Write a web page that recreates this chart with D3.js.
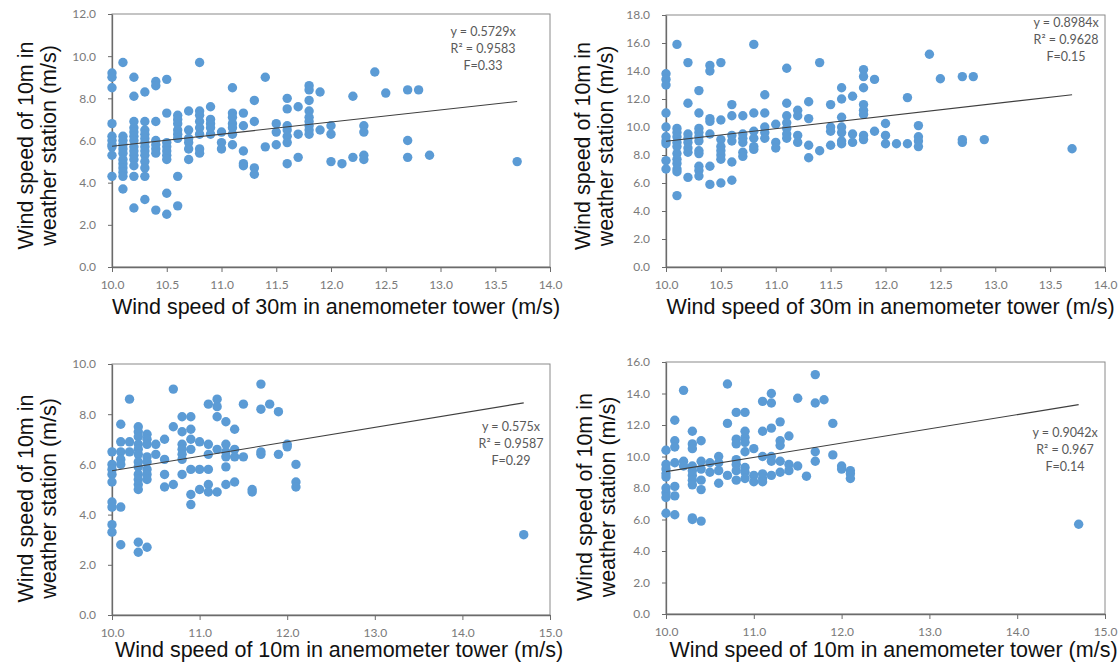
<!DOCTYPE html>
<html>
<head>
<meta charset="utf-8">
<script src="https://cdn.jsdelivr.net/npm/d3@7"></script>
<style>
  body { margin: 0; background: #fff; }
  svg { display: block; }
</style>
</head>
<body>
<div id="chart"></div>
<script>
// tick labels
const xTicksTop = [10.0, 10.5, 11.0, 11.5, 12.0, 12.5, 13.0, 13.5, 14.0];
const xTicksBottom = [10.0, 11.0, 12.0, 13.0, 14.0, 15.0];
const yTicks1 = [0, 2, 4, 6, 8, 10, 12];
const yTicks2 = [0, 2, 4, 6, 8, 10, 12, 14, 16, 18];
const yTicks3 = [0, 2, 4, 6, 8, 10];
const yTicks4 = [0, 2, 4, 6, 8, 10, 12, 14, 16];

const xTitleTop = "Wind speed of 30m in anemometer tower (m/s)";
const xTitleBottom = "Wind speed of 10m in anemometer tower (m/s)";
const yTitleLines = ["Wind speed of 10m in", "weather station (m/s)"];

// points: [tower speed, [station speeds...]]
const points1 = [
  [10.0, [9.2, 9.0, 8.5, 6.8, 6.2, 6.0, 5.8, 5.7, 5.3, 4.3]],
  [10.1, [9.7, 6.2, 6.0, 5.8, 5.6, 5.4, 5.1, 4.9, 4.7, 4.5, 4.3, 3.7]],
  [10.2, [9.0, 8.1, 6.9, 6.6, 6.4, 6.2, 6.0, 5.7, 5.5, 5.3, 5.1, 4.8, 4.3, 2.8]],
  [10.3, [8.3, 6.9, 6.5, 6.3, 6.1, 5.9, 5.7, 5.5, 5.3, 5.0, 4.7, 4.3, 3.2]],
  [10.4, [8.8, 8.6, 6.9, 6.0, 5.8, 5.6, 5.4, 2.7]],
  [10.5, [8.9, 7.3, 5.9, 5.7, 5.5, 5.3, 5.1, 3.5, 2.5]],
  [10.6, [7.2, 7.0, 6.8, 6.5, 6.3, 6.1, 4.3, 2.9]],
  [10.7, [7.4, 6.5, 6.1, 5.9, 5.6, 5.1]],
  [10.8, [9.7, 7.4, 7.2, 6.9, 6.6, 6.3, 5.6, 5.4]],
  [10.9, [7.6, 7.0, 6.8, 6.6, 6.3]],
  [11.0, [6.4, 5.9, 5.6]],
  [11.1, [8.5, 7.3, 7.1, 6.8, 6.6, 6.3, 5.8]],
  [11.2, [7.3, 6.7, 5.5, 4.9, 4.8]],
  [11.3, [7.9, 6.9, 4.7, 4.4]],
  [11.4, [9.0, 5.7]],
  [11.5, [6.8, 6.4, 5.8]],
  [11.6, [8.0, 7.5, 6.7, 6.5, 6.2, 5.9, 4.9]],
  [11.7, [7.6, 6.3, 5.2]],
  [11.8, [8.6, 8.4, 7.9, 7.4, 7.1, 6.9, 6.7, 6.5, 6.3]],
  [11.9, [8.3, 6.5]],
  [12.0, [6.7, 6.3, 5.0]],
  [12.1, [4.9]],
  [12.2, [8.1, 5.2]],
  [12.3, [6.7, 6.4, 5.3, 5.1]],
  [12.4, [9.25]],
  [12.5, [8.25]],
  [12.7, [8.4, 6.0, 5.2]],
  [12.8, [8.4]],
  [12.9, [5.3]],
  [13.7, [5.0]]
];

const points2 = [
  [10.0, [13.8, 13.4, 13.0, 11.0, 10.0, 9.3, 9.0, 8.8, 7.6, 7.0]],
  [10.1, [15.9, 9.9, 9.6, 9.3, 8.9, 8.6, 8.1, 7.7, 7.4, 7.0, 6.8, 5.1]],
  [10.2, [14.6, 11.7, 9.5, 9.2, 8.9, 8.5, 8.2, 6.4]],
  [10.3, [12.6, 11.0, 9.9, 9.6, 9.3, 9.0, 8.3, 8.1, 7.2, 6.9, 6.5]],
  [10.4, [14.4, 14.0, 10.6, 10.4, 9.5, 7.2, 5.9]],
  [10.5, [14.6, 10.5, 9.1, 8.6, 8.3, 8.0, 7.7, 6.0]],
  [10.6, [11.6, 10.8, 9.4, 9.0, 7.5, 6.2]],
  [10.7, [10.8, 9.5, 9.2, 8.9, 8.2, 7.9]],
  [10.8, [15.9, 11.0, 9.7, 9.2, 8.6, 8.4]],
  [10.9, [12.3, 11.0, 10.0, 9.6, 9.2]],
  [11.0, [10.2, 8.9, 8.5]],
  [11.1, [14.2, 11.7, 10.8, 10.3, 9.9, 9.5, 9.2]],
  [11.2, [11.2, 10.8, 9.4, 8.9]],
  [11.3, [11.8, 10.6, 8.7, 7.8]],
  [11.4, [14.6, 8.3]],
  [11.5, [11.6, 10.0, 9.7, 8.7]],
  [11.6, [12.8, 12.0, 10.7, 10.0, 9.6, 9.0, 8.8]],
  [11.7, [12.2, 9.5, 8.9]],
  [11.8, [14.1, 13.6, 12.8, 11.6, 11.2, 10.9, 9.4, 9.1]],
  [11.9, [13.4, 9.7]],
  [12.0, [10.25, 9.4, 8.8]],
  [12.1, [8.8]],
  [12.2, [12.1, 8.8]],
  [12.3, [10.1, 9.3, 9.0, 8.6]],
  [12.4, [15.2]],
  [12.5, [13.45]],
  [12.7, [13.6, 9.1, 8.9]],
  [12.8, [13.6]],
  [12.9, [9.1]],
  [13.7, [8.45]]
];

const points3 = [
  [10.0, [6.5, 6.0, 5.8, 5.6, 5.3, 4.5, 4.3, 3.6, 3.3]],
  [10.1, [7.6, 6.9, 6.5, 6.2, 6.0, 4.3, 2.8]],
  [10.2, [8.6, 6.9, 6.5]],
  [10.3, [7.5, 7.3, 7.1, 6.8, 6.6, 6.4, 6.1, 5.9, 5.6, 5.4, 5.2, 5.0, 2.9, 2.5]],
  [10.4, [7.2, 7.0, 6.8, 6.3, 6.1, 5.8, 5.6, 5.4, 2.7]],
  [10.5, [6.8, 6.4]],
  [10.6, [7.0, 6.2, 5.6, 5.1]],
  [10.7, [9.0, 7.5, 5.2]],
  [10.8, [7.9, 7.3, 6.8, 6.6, 6.4, 6.2, 5.6]],
  [10.9, [7.9, 7.4, 7.0, 6.6, 5.8, 4.8, 4.4]],
  [11.0, [6.9, 5.8, 5.0]],
  [11.1, [8.4, 6.8, 6.4, 5.8, 5.2, 4.9]],
  [11.2, [8.6, 8.3, 7.9, 6.6, 4.9]],
  [11.3, [7.7, 6.8, 6.5, 6.3, 5.9, 5.2]],
  [11.4, [7.4, 6.6, 6.3, 5.3]],
  [11.5, [8.4, 6.3]],
  [11.6, [5.0, 4.9]],
  [11.7, [9.2, 8.2, 6.5, 6.4]],
  [11.8, [8.4]],
  [11.9, [8.1, 6.4]],
  [12.0, [6.8, 6.7]],
  [12.1, [6.0, 5.3, 5.1]],
  [14.7, [3.2]]
];

const points4 = [
  [10.0, [10.4, 9.5, 9.2, 8.9, 8.7, 8.0, 7.7, 7.4, 6.4]],
  [10.1, [12.3, 11.0, 10.6, 9.6, 8.1, 7.5, 6.3]],
  [10.2, [14.2, 9.7, 9.4]],
  [10.3, [11.6, 10.8, 10.5, 9.4, 9.1, 8.8, 8.5, 8.2, 6.1, 6.0]],
  [10.4, [11.0, 9.7, 9.2, 8.5, 7.9, 5.9]],
  [10.5, [9.6, 9.0]],
  [10.6, [10.0, 9.6, 9.1, 8.3]],
  [10.7, [14.6, 12.1, 8.8]],
  [10.8, [12.8, 11.1, 10.8, 9.8, 9.5, 9.1, 8.5]],
  [10.9, [12.8, 11.6, 11.2, 10.9, 10.3, 9.3, 9.0, 8.6]],
  [11.0, [10.5, 8.8, 8.4]],
  [11.1, [13.5, 11.6, 10.0, 8.9, 8.6, 8.4]],
  [11.2, [14.0, 13.4, 11.8, 10.0, 9.7, 8.8]],
  [11.3, [12.2, 11.0, 10.7, 9.7, 9.0]],
  [11.4, [11.3, 9.5, 9.1]],
  [11.5, [13.7, 9.4]],
  [11.6, [8.75]],
  [11.7, [15.2, 13.4, 10.3, 9.7]],
  [11.8, [13.6]],
  [11.9, [12.1, 10.1]],
  [12.0, [9.4, 9.2]],
  [12.1, [9.1, 8.9, 8.6]],
  [14.7, [5.7]]
];

// fitted slopes and labels
const slopes = [0.5729, 0.8984, 0.575, 0.9042];
const fitLabels = [
  ["y = 0.5729x", "R\u00b2 = 0.9583", "F=0.33"],
  ["y = 0.8984x", "R\u00b2 = 0.9628", "F=0.15"],
  ["y = 0.575x", "R\u00b2 = 0.9587", "F=0.29"],
  ["y = 0.9042x", "R\u00b2 = 0.967", "F=0.14"]
];

const W = 1120, H = 664;
const dotColor = "#5B9BD5";
const axisColor = "#6b6b6b";
const textGrey = "#595959";
const tickGrey = "#7a7a7a";

const svg = d3.select("#chart").append("svg")
  .attr("width", W)
  .attr("height", H);

const panels = [
  {pts: points1, xDomain: [10, 14], yDomain: [0, 12], xTicks: xTicksTop, yTicks: yTicks1,
   left: 112, top: 14, w: 438, h: 253, xTitle: xTitleTop, titleY: 314, titleShift: 5,
   yTitleX: 25, yTitleShift: 5, labX: 371, labY: 36},
  {pts: points2, xDomain: [10, 14], yDomain: [0, 18], xTicks: xTicksTop, yTicks: yTicks2,
   left: 666, top: 15, w: 439, h: 252, xTitle: xTitleTop, titleY: 314, titleShift: 5,
   yTitleX: 582, yTitleShift: 5, labX: 400, labY: 27},
  {pts: points3, xDomain: [10, 15], yDomain: [0, 10], xTicks: xTicksBottom, yTicks: yTicks3,
   left: 112, top: 364, w: 438, h: 251, xTitle: xTitleBottom, titleY: 657, titleShift: 8,
   yTitleX: 25, yTitleShift: 9, labX: 399, labY: 431},
  {pts: points4, xDomain: [10, 15], yDomain: [0, 16], xTicks: xTicksBottom, yTicks: yTicks4,
   left: 666, top: 362, w: 439, h: 252, xTitle: xTitleBottom, titleY: 657, titleShift: 8,
   yTitleX: 584, yTitleShift: 9, labX: 399, labY: 437}
];

panels.forEach((p, i) => {
  const x = d3.scaleLinear().domain(p.xDomain).range([p.left, p.left + p.w]);
  const y = d3.scaleLinear().domain(p.yDomain).range([p.top + p.h, p.top]);
  const g = svg.append("g");

  // plot frame
  g.append("rect")
    .attr("x", p.left)
    .attr("y", p.top)
    .attr("width", p.w)
    .attr("height", p.h)
    .attr("fill", "none")
    .attr("stroke", "#8a8a8a")
    .attr("stroke-width", 1);

  const xAxis = d3.axisBottom(x)
    .tickValues(p.xTicks)
    .tickFormat(d3.format(".1f"))
    .tickSizeOuter(0)
    .tickSizeInner(5)
    .tickPadding(8);
  const yAxis = d3.axisLeft(y)
    .tickValues(p.yTicks)
    .tickFormat(d3.format(".1f"))
    .tickSizeOuter(0)
    .tickSizeInner(4)
    .tickPadding(12);

  const xg = g.append("g")
    .attr("transform", `translate(0, ${p.top + p.h})`)
    .call(xAxis);
  const yg = g.append("g")
    .attr("transform", `translate(${p.left}, 0)`)
    .call(yAxis);

  [xg, yg].forEach(a => {
    a.select(".domain").attr("stroke", axisColor).attr("stroke-width", 1.3);
    a.selectAll(".tick line").attr("stroke", axisColor);
    a.selectAll(".tick text")
      .attr("fill", tickGrey)
      .style("font-family", "Lato, 'Open Sans', sans-serif")
      .style("font-size", "12px");
  });

  // points
  const flat = [];
  p.pts.forEach(([xv, ys]) => ys.forEach(yv => flat.push([xv, yv])));
  g.selectAll("circle")
    .data(flat)
    .enter()
    .append("circle")
    .attr("cx", d => x(d[0]))
    .attr("cy", d => y(d[1]))
    .attr("r", 4.7)
    .attr("fill", dotColor);

  // trend line through origin
  const xMax = d3.max(flat, d => d[0]);
  const line = d3.line().x(d => x(d)).y(d => y(slopes[i] * d));
  g.append("path")
    .attr("d", line([p.xDomain[0], xMax]))
    .attr("stroke", "#3f3f3f")
    .attr("stroke-width", 1.1)
    .attr("fill", "none");

  // fit text
  g.append("text")
    .attr("x", p.left + p.labX)
    .attr("y", p.labY)
    .attr("text-anchor", "middle")
    .attr("fill", textGrey)
    .style("font-family", "Lato, 'Open Sans', sans-serif")
    .style("font-size", "12.5px")
    .selectAll("tspan")
    .data(fitLabels[i])
    .enter()
    .append("tspan")
    .attr("x", p.left + p.labX)
    .attr("dy", (d, k) => k === 0 ? 0 : 17)
    .text(d => d);

  // axis titles
  g.append("text")
    .attr("x", p.left + p.w / 2 + p.titleShift)
    .attr("y", p.titleY)
    .attr("text-anchor", "middle")
    .attr("fill", "#111")
    .style("font-family", "'Liberation Sans', Arial, sans-serif")
    .style("font-size", "21.5px")
    .text(p.xTitle);

  const cy = p.top + p.h / 2 + p.yTitleShift;
  yTitleLines.forEach((t, k) => {
    g.append("text")
      .attr("transform", `translate(${p.yTitleX + k * 23}, ${cy}) rotate(-90)`)
      .attr("dy", "0.35em")
      .attr("text-anchor", "middle")
      .attr("fill", "#111")
      .style("font-family", "'Liberation Sans', Arial, sans-serif")
      .style("font-size", "21.5px")
      .text(t);
  });
});
</script>
</body>
</html>
